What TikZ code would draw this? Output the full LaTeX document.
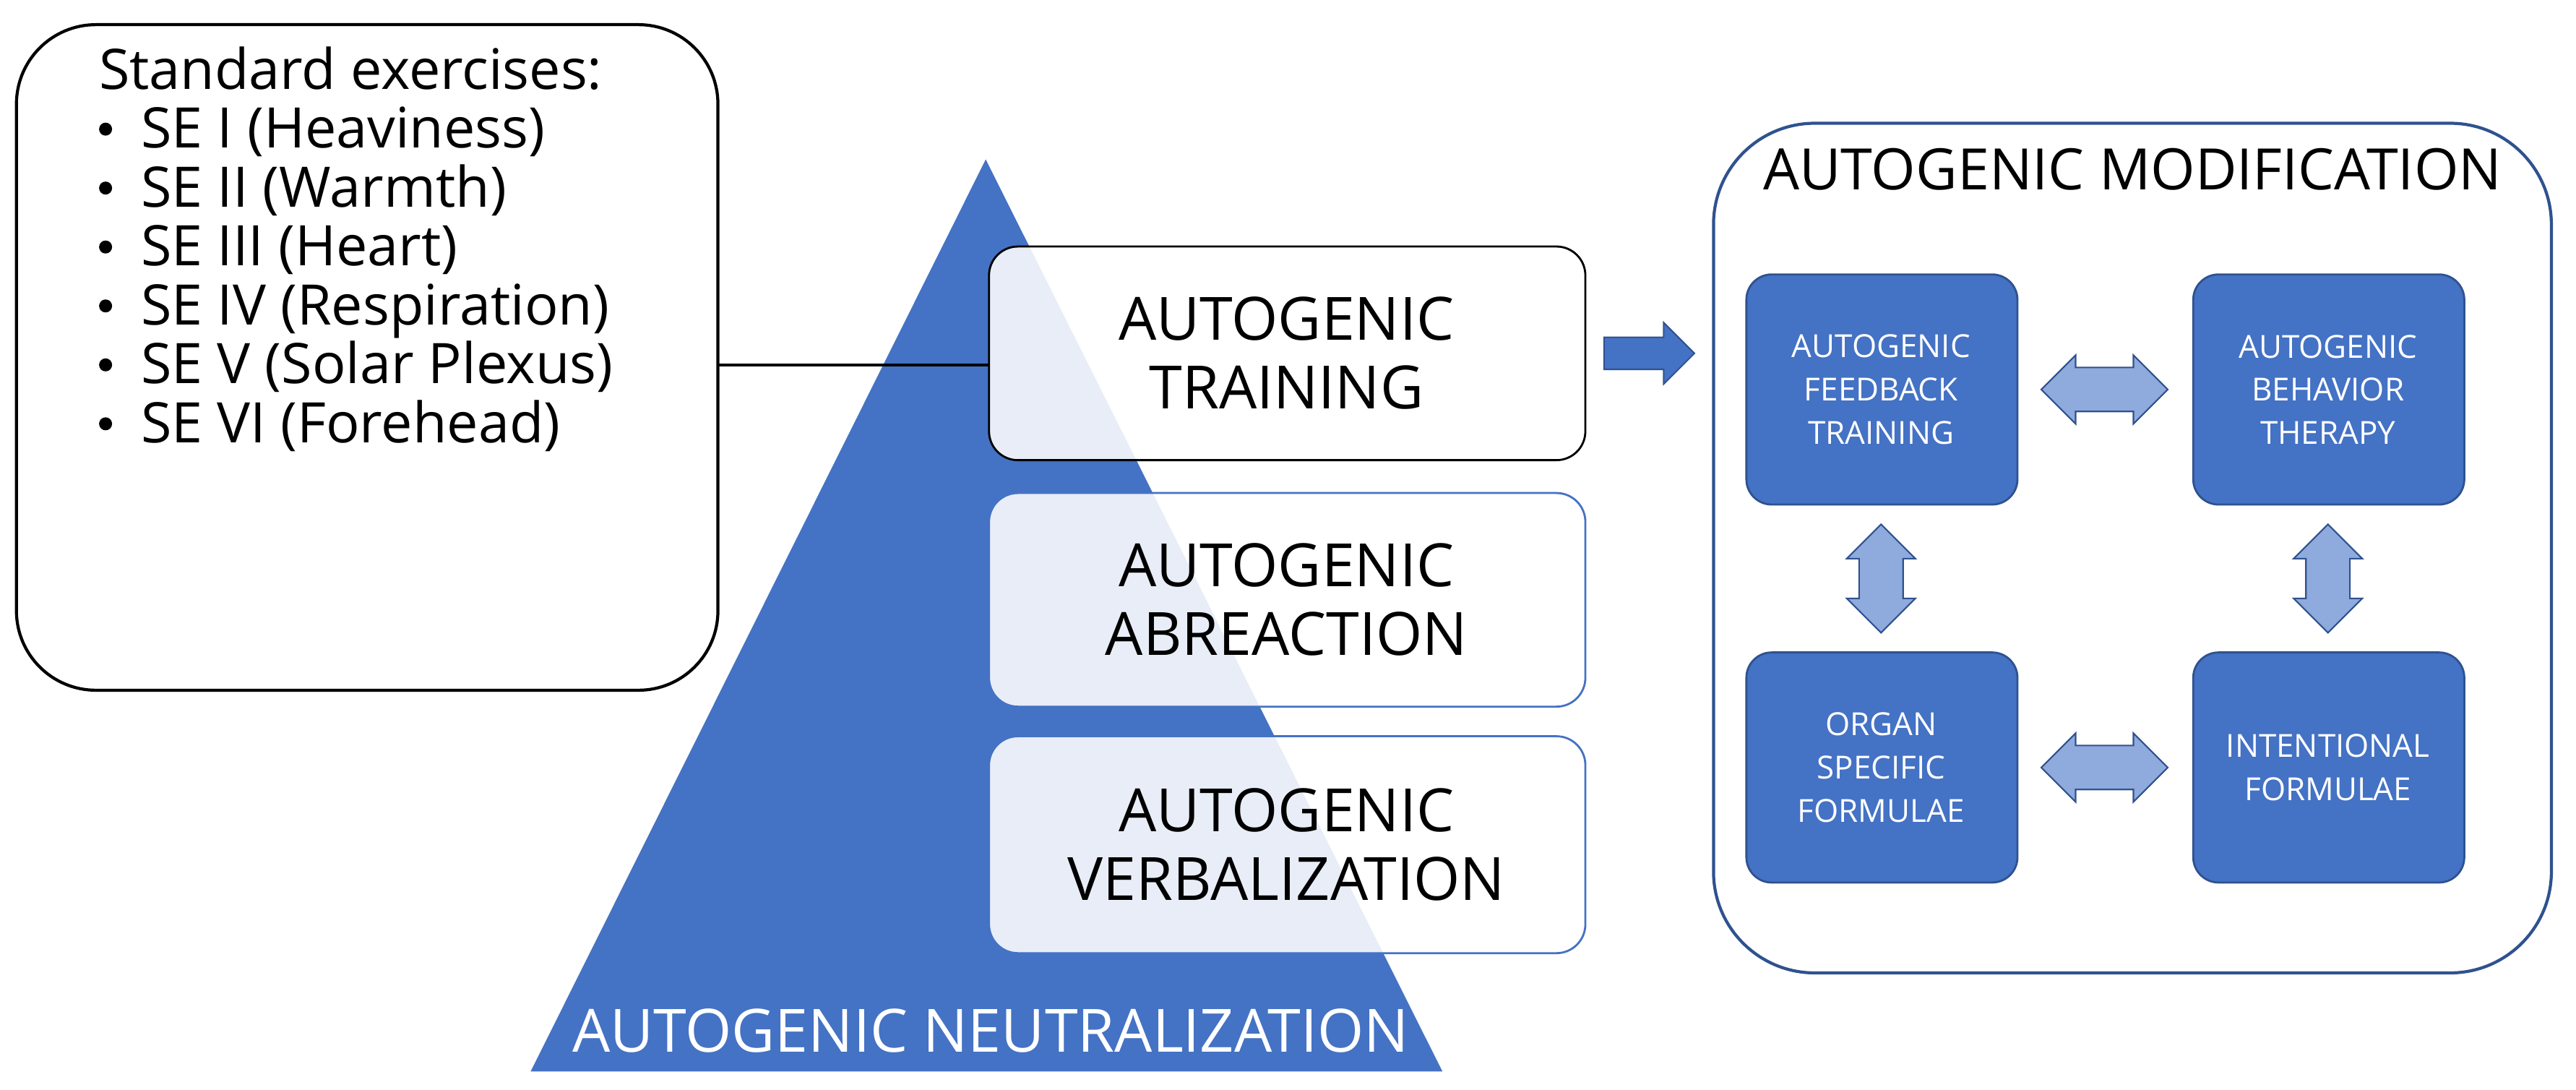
\documentclass[tikz,border=0pt]{standalone}
\usepackage{fontspec}
\setmainfont{Open Sans}
\usetikzlibrary{shapes.arrows}
\definecolor{tblue}{HTML}{4472C4}
\definecolor{dblue}{HTML}{2F528F}
\definecolor{lblue}{HTML}{8FAADC}
\newcommand{\mybul}{\raisebox{0.22em}{\tikz\fill circle (0.09cm);}\hspace{0.4cm}}
\begin{document}
\begin{tikzpicture}[x=0.02273cm,y=-0.02273cm,
  big/.style={font=\fontsize{23.5}{27}\selectfont,align=center},
  small/.style={font=\fontsize{12.5}{17}\selectfont,align=center,text=white},
  layer/.style={rounded corners=0.4cm,fill=white,fill opacity=0.88,text opacity=1,line width=0.8pt},
  inner/.style={rounded corners=0.35cm,fill=tblue,draw=dblue,line width=0.8pt},
  darrow/.style={double arrow,fill=lblue,draw=dblue,line width=0.6pt,minimum height=#1,minimum width=0.95cm,double arrow head extend=0.09cm,inner sep=0.15cm}]
\useasboundingbox (0,0) rectangle (1568,663);
% left box
\draw[line width=1.2pt,rounded corners=1.1cm] (10,15) rectangle (437,420);
\node[anchor=north west,font=\fontsize{22}{23.2}\selectfont,align=left,inner sep=0pt] (se) at (60,28)
 {Standard exercises:\\
 \mybul SE I (Heaviness)\\
 \mybul SE II (Warmth)\\
 \mybul SE III (Heart)\\
 \mybul SE IV (Respiration)\\
 \mybul SE V (Solar Plexus)\\
 \mybul SE VI (Forehead)};
\coordinate (lb) at (437,222);
% triangle
\fill[tblue] (600,97) -- (878,652) -- (323,652) -- cycle;
\node[font=\fontsize{23.5}{27}\selectfont,text=white] (neu) at (603,627) {AUTOGENIC NEUTRALIZATION};
% layers
\draw[layer,draw=black] (602,150) rectangle (965,280);
\node[big] (tr) at (783,215) {AUTOGENIC\\TRAINING};
\draw[layer,draw=tblue] (602,300) rectangle (965,430);
\node[big] (ab) at (783,365) {AUTOGENIC\\ABREACTION};
\draw[layer,draw=tblue] (602,448) rectangle (965,580);
\node[big] (ve) at (783,514) {AUTOGENIC\\VERBALIZATION};
\coordinate (trl) at (602,222);
\draw[line width=1.2pt] (lb) -- (trl);
% arrow
\node[single arrow,fill=tblue,draw=dblue,line width=0.6pt,minimum height=1.25cm,minimum width=0.85cm,single arrow head extend=0.12cm,inner sep=0.12cm] (ar) at (999,215) {};
% right box
\draw[dblue,line width=1.2pt,rounded corners=1.4cm] (1043,75) rectangle (1553,592);
\node[font=\fontsize{22.5}{26}\selectfont] (mod) at (1298,103) {AUTOGENIC MODIFICATION};
\draw[inner] (1063,167) rectangle (1228,307);
\node[small] (a1) at (1145,237) {AUTOGENIC\\FEEDBACK\\TRAINING};
\draw[inner] (1335,167) rectangle (1500,307);
\node[small] (a2) at (1417,237) {AUTOGENIC\\BEHAVIOR\\THERAPY};
\draw[inner] (1063,397) rectangle (1228,537);
\node[small] (a3) at (1145,467) {ORGAN\\SPECIFIC\\FORMULAE};
\draw[inner] (1335,397) rectangle (1500,537);
\node[small] (a4) at (1417,467) {INTENTIONAL\\FORMULAE};
\node[darrow=1.75cm] (h1) at (1281,237) {};
\node[darrow=1.75cm] (h2) at (1281,467) {};
\node[darrow=1.5cm,rotate=90] (v1) at (1145,352) {};
\node[darrow=1.5cm,rotate=90] (v2) at (1417,352) {};
\end{tikzpicture}
\end{document}
